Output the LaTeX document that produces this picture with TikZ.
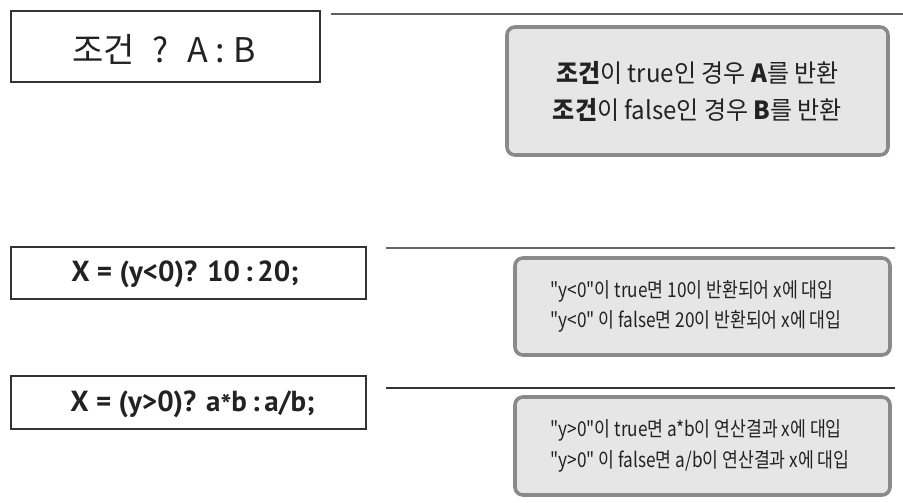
\documentclass[tikz,border=0pt]{standalone}
\usepackage{fontspec}
\setmainfont{Noto Sans CJK KR}
\newfontfamily\krc[FakeStretch=0.84]{Noto Sans CJK KR}
\newfontfamily\krw[FakeStretch=0.96]{Noto Sans CJK KR}
\newfontfamily\codef{PT Sans}
\definecolor{boxline}{HTML}{333333}
\definecolor{grayfill}{HTML}{E6E6E6}
\definecolor{grayedge}{HTML}{8A8A8A}
\definecolor{txt}{HTML}{222222}
\newcommand{\mystar}{\raisebox{-0.3ex}{*}}
\begin{document}
\begin{tikzpicture}[x=1pt,y=-1pt,
  codebox/.style={draw=boxline,line width=2.8pt,inner sep=0pt,text=txt},
  notebox/.style={draw=grayedge,fill=grayfill,line width=3.6pt,rounded corners=8pt,inner sep=0pt,text=txt},
  sepline/.style={line width=2pt}]
\useasboundingbox (0,0) rectangle (903,503);
\fill[white] (0,0) rectangle (903,503);
% row 1
\node[codebox,minimum width=309pt,minimum height=71pt] (c1) at (165.5,46.5) {};
\node[text=txt,font=\fontsize{34}{34}\selectfont] (t1) at (164,49)
  {조건\hspace{18pt}?\hspace{18pt}A\hspace{8pt}:\hspace{8pt}B};
\coordinate (l1a) at (331,14.5);
\coordinate (l1b) at (903,14.5);
\draw[sepline,draw=gray!75!black] (l1a) -- (l1b);
\node[notebox,minimum width=381pt,minimum height=128pt] (g1) at (697.5,91) {};
\node[text=txt,align=center,font=\krw\fontsize{25}{37}\selectfont] (n1) at (697.5,91)
  {\textbf{조건}이 true인 경우 \textbf{A}를 반환\\\textbf{조건}이 false인 경우 \textbf{B}를 반환};
% row 2
\node[codebox,minimum width=355pt,minimum height=52pt] (c2) at (188.5,273) {};
\node[text=txt,font=\codef\bfseries\fontsize{29}{29}\selectfont] (t2) at (185,274) {X = (y<0)? 10\,:\,20;};
\coordinate (l2a) at (386,248);
\coordinate (l2b) at (895,248);
\draw[sepline,draw=gray!80!black] (l2a) -- (l2b);
\node[notebox,minimum width=375pt,minimum height=97pt] (g2) at (702.5,306.5) {};
\node[text=txt,align=left,anchor=west,font=\krc\fontsize{20.5}{30}\selectfont] (n2) at (547,306.5)
  {"y<0"이 true면 10이 반환되어 x에 대입\\"y<0" 이 false면 20이 반환되어 x에 대입};
% row 3
\node[codebox,minimum width=355pt,minimum height=53pt] (c3) at (188.5,402.5) {};
\node[text=txt,font=\codef\bfseries\fontsize{29}{29}\selectfont] (t3) at (192.5,404) {X = (y>0)? a\mystar b\,:\,a/b;};
\coordinate (l3a) at (386,388);
\coordinate (l3b) at (895,388);
\draw[sepline,line width=1.6pt,draw=gray!40!black] (l3a) -- (l3b);
\node[notebox,minimum width=375pt,minimum height=98pt] (g3) at (702.5,446) {};
\node[text=txt,align=left,anchor=west,font=\krc\fontsize{20.5}{31}\selectfont] (n3) at (547,446)
  {"y>0"이 true면 a*b이 연산결과 x에 대입\\"y>0" 이 false면 a/b이 연산결과 x에 대입};
\end{tikzpicture}
\end{document}
